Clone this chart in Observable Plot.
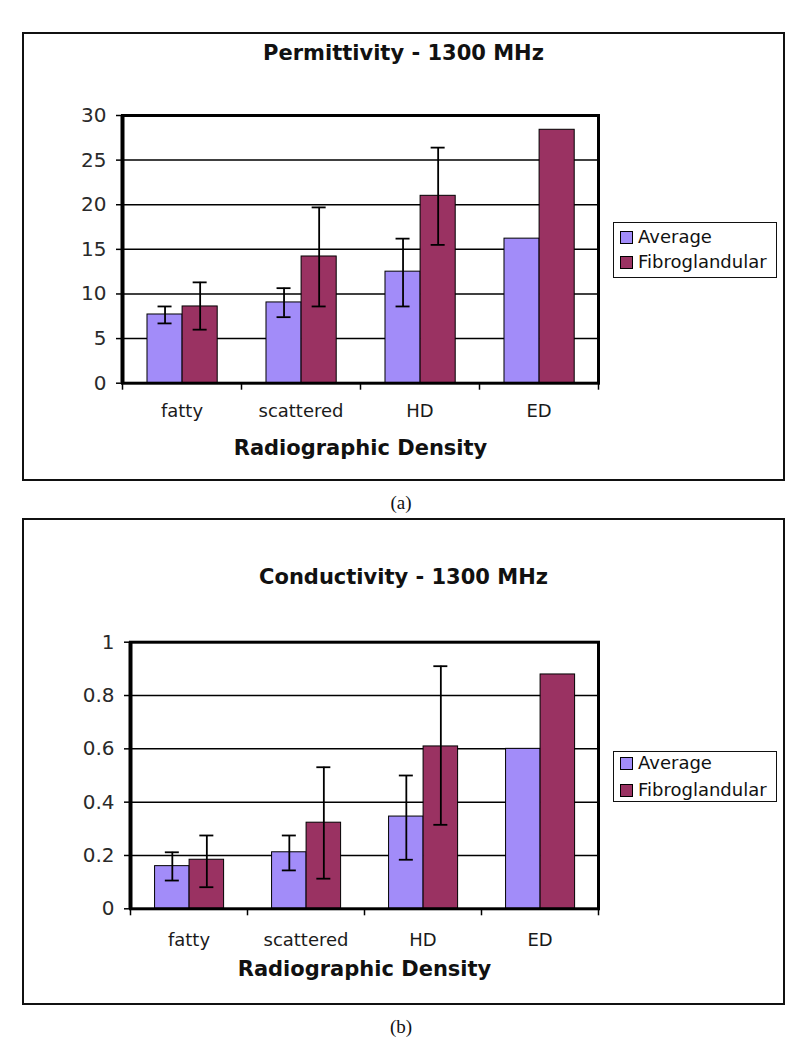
<!DOCTYPE html>
<html><head><meta charset="utf-8">
<script src="https://cdn.jsdelivr.net/npm/d3@7"></script>
<script src="https://cdn.jsdelivr.net/npm/@observablehq/plot@0.6"></script>
<style>
body{margin:0;background:#fff;}
#root{position:relative;width:800px;height:1054px;font-family:"DejaVu Sans",Verdana,sans-serif;color:#111;overflow:hidden;}
.box{position:absolute;border:2px solid #111;box-sizing:border-box;}
.title{position:absolute;font-weight:bold;font-size:21px;line-height:24px;text-align:center;}
.legend{position:absolute;border:1.5px solid #111;box-sizing:border-box;font-size:18px;background:#fff;}
.legend .row{position:absolute;left:6px;white-space:nowrap;line-height:20px;height:20px;}
.sw{display:inline-block;width:11px;height:11px;border:1px solid #000;margin-right:5px;vertical-align:-1px;}
.cap{position:absolute;font-family:"Liberation Serif","DejaVu Serif",serif;font-size:19px;line-height:20px;text-align:center;width:80px;}
.chart{position:absolute;}
</style>
</head>
<body>
<div id="root"></div>
<script>
// ---- data ----
const categories = ["fatty", "scattered", "HD", "ED"];
const seriesNames = ["Average", "Fibroglandular"];
const seriesColors = ["#a28cf9", "#9a3262"];

const permTitle = "Permittivity - 1300 MHz";
const permAvg   = [7.7, 9.05, 12.5, 16.2];
const permAvgLo = [6.7, 7.4, 8.6, null];
const permAvgHi = [8.6, 10.65, 16.2, null];
const permFib   = [8.6, 14.2, 21.0, 28.4];
const permFibLo = [6.0, 8.6, 15.5, null];
const permFibHi = [11.3, 19.7, 26.4, null];
const permTicks = [0, 5, 10, 15, 20, 25, 30];

const condTitle = "Conductivity - 1300 MHz";
const condAvg   = [0.16, 0.212, 0.346, 0.6];
const condAvgLo = [0.106, 0.144, 0.184, null];
const condAvgHi = [0.212, 0.275, 0.5, null];
const condFib   = [0.184, 0.323, 0.609, 0.879];
const condFibLo = [0.081, 0.113, 0.315, null];
const condFibHi = [0.275, 0.531, 0.91, null];
const condTicks = [0, 0.2, 0.4, 0.6, 0.8, 1];

const xTitle = "Radiographic Density";
const captions = ["(a)", "(b)"];

// ---- helpers ----
const root = document.getElementById("root");
function el(cls, style, html) {
  const d = document.createElement("div");
  d.className = cls;
  Object.assign(d.style, style);
  if (html != null) d.innerHTML = html;
  root.appendChild(d);
  return d;
}

function chart(cfg) {
  const {avg, avgLo, avgHi, fib, fibLo, fibHi, ticks, L} = cfg;
  const avgData = categories.map((c, i) => ({cat: c, v: avg[i]}));
  const fibData = categories.map((c, i) => ({cat: c, v: fib[i]}));
  const avgErr = categories.map((c, i) => ({cat: c, lo: avgLo[i], hi: avgHi[i]})).filter(d => d.lo != null);
  const fibErr = categories.map((c, i) => ({cat: c, lo: fibLo[i], hi: fibHi[i]})).filter(d => d.lo != null);

  const bw = (L.width - L.ml - L.mr) / categories.length;
  const pl = 0.21, mid = 0.505, pr = 0.2;
  const cA = (pl + mid) / 2, cF = (mid + 1 - pr) / 2, capHalf = 7;
  const err = (data, c) => [
    Plot.ruleX(data, {x: "cat", y1: "lo", y2: "hi", dx: (c - 0.5) * bw, stroke: "#000", strokeWidth: 1.8}),
    Plot.tickY(data, {x: "cat", y: "lo", insetLeft: c * bw - capHalf, insetRight: (1 - c) * bw - capHalf, stroke: "#000", strokeWidth: 1.8}),
    Plot.tickY(data, {x: "cat", y: "hi", insetLeft: c * bw - capHalf, insetRight: (1 - c) * bw - capHalf, stroke: "#000", strokeWidth: 1.8})
  ];

  const svg = Plot.plot({
    width: L.width, height: L.height,
    marginLeft: L.ml, marginRight: L.mr, marginTop: L.mt, marginBottom: L.mb,
    style: {fontFamily: '"DejaVu Sans", Verdana, sans-serif', color: "#000", background: "transparent", overflow: "visible"},
    x: {domain: categories, type: "band", padding: 0, axis: null, label: null},
    y: {domain: [0, ticks[ticks.length - 1]], axis: null, label: null},
    marks: [
      Plot.ruleY(ticks, {stroke: "#000", strokeWidth: 1.5}),
      Plot.barY(avgData, {x: "cat", y: "v", fill: seriesColors[0], stroke: "#000", strokeWidth: 1, insetLeft: pl * bw, insetRight: (1 - mid) * bw}),
      Plot.barY(fibData, {x: "cat", y: "v", fill: seriesColors[1], stroke: "#000", strokeWidth: 1, insetLeft: mid * bw, insetRight: pr * bw}),
      ...err(avgErr, cA),
      ...err(fibErr, cF),
      Plot.frame({stroke: "#000", strokeWidth: 3}),
      Plot.ruleX([categories[0]], {x: d => d, dx: -bw / 2, stroke: "#000", strokeWidth: 4}),
      Plot.ruleX(categories, {x: d => d, y1: 0, y2: 0, dx: -bw / 2, insetBottom: -7, stroke: "#000", strokeWidth: 1.5}),
      Plot.ruleX([categories[categories.length - 1]], {x: d => d, y1: 0, y2: 0, dx: bw / 2, insetBottom: -7, stroke: "#000", strokeWidth: 1.5}),
      Plot.axisY(ticks, {tickSize: 6, tickPadding: 10, fontSize: 20, tickFormat: d => String(d), label: null, strokeWidth: 1.5, fill: "#2a2a2a"}),
      Plot.axisX({tickSize: 0, tickPadding: L.catPad, fontSize: 18, label: null, fill: "#1a1a1a"}),
      Plot.text([xTitle], {frameAnchor: "bottom", dy: L.titleDy, fontWeight: "bold", fontSize: 21, fill: "#111"})
    ]
  });
  svg.classList.add("chart");
  Object.assign(svg.style, {left: L.left + "px", top: L.top + "px"});
  root.appendChild(svg);
}

function legend(left, top, height, rowTops) {
  const lg = el("legend", {left: left + "px", top: top + "px", width: "164px", height: height + "px"});
  seriesNames.forEach((n, i) => {
    const r = document.createElement("div");
    r.className = "row";
    r.style.top = rowTops[i] + "px";
    r.innerHTML = `<span class="sw" style="background:${seriesColors[i]}"></span>${n}`;
    lg.appendChild(r);
  });
}

// ---- panel (a) ----
el("box", {left: "22px", top: "32px", width: "763px", height: "449px"});
el("title", {left: "22px", top: "41px", width: "763px"}, permTitle);
chart({avg: permAvg, avgLo: permAvgLo, avgHi: permAvgHi, fib: permFib, fibLo: permFibLo, fibHi: permFibHi, ticks: permTicks,
  L: {left: 22, top: 90, width: 763, height: 390, ml: 100, mr: 187, mt: 25, mb: 97.3, catPad: 21, titleDy: 72}});
legend(613, 222, 56, [4, 29]);
el("cap", {left: "361px", top: "493px"}, captions[0]);

// ---- panel (b) ----
el("box", {left: "22px", top: "518px", width: "763px", height: "487px"});
el("title", {left: "22px", top: "565px", width: "763px"}, condTitle);
chart({avg: condAvg, avgLo: condAvgLo, avgHi: condAvgHi, fib: condFib, fibLo: condFibLo, fibHi: condFibHi, ticks: condTicks,
  L: {left: 22, top: 610, width: 763, height: 394, ml: 108, mr: 187, mt: 31.7, mb: 95.7, catPad: 24, titleDy: 67}});
legend(613, 751, 51, [1, 28]);
el("cap", {left: "361px", top: "1017px"}, captions[1]);
</script>
</body></html>
